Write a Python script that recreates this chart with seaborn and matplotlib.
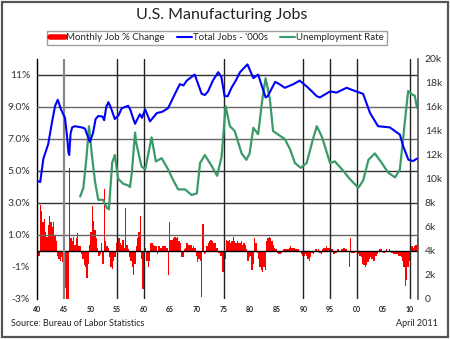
import numpy as np
import matplotlib
matplotlib.use("Agg")
import matplotlib.pyplot as plt
import seaborn as sns
import pandas as pd
from matplotlib.patches import Rectangle
from matplotlib.lines import Line2D

# ---------------- data ----------------
# Monthly job % change, read at quarter-year steps starting 1940.0
job_change_pct = [
    -0.6, -0.3, 2.9, 2.5,   # 1940
    1.8, 2.0, 1.2, 0.9,     # 1941
    1.6, 2.2, 1.8, 1.5,     # 1942
    1.8, 1.0, 0.6, -0.3,    # 1943
    -0.5, -0.6, -0.4, -0.7, # 1944
    -1.2, -2.3, -3.0, -3.0, # 1945
    5.2, 0.8, 0.6, 0.9,     # 1946
    0.4, 0.8, 1.1, 0.3,     # 1947
    0.3, -0.2, -0.5, -0.9,  # 1948
    -1.0, -1.7, -0.8, 0.4,  # 1949
    1.2, 2.8, 1.9, 1.3,     # 1950
    0.8, 0.2, -0.3, -0.2,   # 1951
    0.5, -0.8, 3.9, 0.6,    # 1952
    0.3, 0.2, -0.4, -1.0,   # 1953
    -1.1, -0.6, -0.4, 0.5,  # 1954
    0.6, 0.8, 0.5, 0.4,     # 1955
    0.7, 0.2, 2.7, 0.4,     # 1956
    0.1, -0.4, -0.6, -1.0,  # 1957
    -1.5, -0.8, 0.3, 0.8,   # 1958
    1.2, 2.2, -0.5, -2.4,   # 1959
    1.3, 0.2, -0.6, -1.0,   # 1960
    -0.6, 0.5, 0.5, 0.4,    # 1961
    0.3, 0.3, -0.2, 0.3,    # 1962
    0.2, 0.2, 0.3, 0.3,     # 1963
    0.3, 0.2, -1.5, 1.8,    # 1964
    0.7, 0.7, 0.8, 0.9,     # 1965
    0.8, 0.9, 0.6, 0.5,     # 1966
    -0.4, -0.4, 0.1, 0.2,   # 1967
    0.5, 0.4, 0.4, 0.4,     # 1968
    0.2, 0.3, 0.2, -0.3,    # 1969
    -0.7, -0.5, -0.6, -2.9, # 1970
    1.7, -0.2, -0.1, 0.3,   # 1971
    0.5, 0.6, 0.7, 0.6,     # 1972
    0.5, 0.5, 0.2, 0.2,     # 1973
    -0.1, -0.3, -0.3, -1.3, # 1974
    -1.3, -0.5, 0.7, 0.6,   # 1975
    0.7, 0.5, 0.6, 0.9,     # 1976
    0.6, 0.5, 0.6, 0.5,     # 1977
    0.5, 0.6, 0.4, 0.5,     # 1978
    0.4, 0.1, -0.6, -0.4,   # 1979
    -0.3, -1.2, -0.8, 0.8,  # 1980
    0.5, -0.1, -0.5, -1.0,  # 1981
    -1.2, -1.3, -1.0, -1.2, # 1982
    0.6, 0.8, 0.9, 0.8,     # 1983
    0.6, 0.4, 0.2, 0.1,     # 1984
    -0.1, -0.2, -0.2, -0.1, # 1985
    0.0, 0.1, 0.1, 0.1,     # 1986
    0.1, 0.2, 0.3, 0.2,     # 1987
    0.2, 0.2, 0.1, 0.1,     # 1988
    0.1, 0.0, -0.2, -0.3,   # 1989
    -0.3, -0.2, -0.3, -0.5, # 1990
    -0.6, -0.4, -0.1, -0.2, # 1991
    0.0, 0.1, 0.0, 0.1,     # 1992
    -0.1, -0.2, 0.1, 0.2,   # 1993
    0.2, 0.3, 0.2, 0.2,     # 1994
    0.2, 0.1, -0.2, -0.2,   # 1995
    -0.1, 0.1, 0.1, 0.0,    # 1996
    0.1, 0.1, 0.2, 0.1,     # 1997
    0.1, 0.0, -1.0, 0.8,    # 1998
    -0.1, -0.1, -0.1, 0.0,  # 1999
    -0.1, -0.2, -0.3, -0.4, # 2000
    -0.8, -0.9, -1.0, -0.9, # 2001
    -0.7, -0.5, -0.4, -0.5, # 2002
    -0.6, -0.6, -0.3, -0.2, # 2003
    0.0, 0.1, 0.1, 0.0,     # 2004
    -0.1, 0.0, 0.1, 0.0,    # 2005
    0.1, 0.0, -0.1, -0.2,   # 2006
    -0.2, -0.2, -0.2, -0.3, # 2007
    -0.3, -0.4, -0.6, -1.0, # 2008
    -2.2, -1.8, -1.0, -0.6, # 2009
    0.1, 0.3, 0.2, 0.3,     # 2010
    0.4, 0.8,               # 2011
]

jobs_years = [1940.1, 1940.6, 1941.2, 1942.1, 1942.8, 1943.4, 1943.9, 1944.5, 1945.25,
              1945.7, 1945.9, 1946.05, 1946.3, 1946.6, 1947.1, 1948.4, 1949.0, 1949.9,
              1950.5, 1951.0, 1951.5, 1952.3, 1952.6, 1953.0, 1953.4, 1953.9, 1954.6,
              1955.3, 1955.9, 1957.1, 1957.5, 1958.0, 1958.4, 1959.3, 1959.7, 1960.3,
              1961.2, 1962.5, 1963.5, 1964.6, 1965.9, 1966.8, 1967.5, 1968.1, 1969.6,
              1970.9, 1971.5, 1972.1, 1973.0, 1974.0, 1974.6, 1975.2, 1975.8, 1976.5,
              1977.3, 1978.1, 1979.5, 1980.6, 1981.5, 1982.9, 1983.3, 1984.7, 1985.5,
              1986.5, 1988.1, 1989.3, 1990.9, 1992.5, 1993.1, 1995.0, 1996.2, 1998.1,
              1999.9, 2001.2, 2002.5, 2004.0, 2006.2, 2008.1, 2008.7, 2009.7, 2010.6,
              2011.3]
jobs_thousands = [9830, 9750, 11700, 12900, 14700, 16100, 16600, 15800, 15100,
                  13300, 12200, 12000, 13800, 14300, 14400, 14300, 14200, 13100,
                  13800, 15000, 15250, 15200, 14900, 16000, 16400, 15900, 15000,
                  15300, 15900, 16100, 15800, 15100, 14600, 15400, 15100, 15800,
                  14800, 15500, 15600, 15900, 17100, 17900, 17800, 18200, 18700,
                  17100, 17000, 17300, 18200, 18900, 18500, 16900, 16900, 17600,
                  18200, 18900, 19550, 18400, 18700, 16800, 16900, 18100, 17900,
                  17600, 17900, 18200, 17600, 16900, 16800, 17300, 17200, 17600,
                  17300, 17100, 15500, 14400, 14300, 13700, 12750, 11600, 11500,
                  11700]

unemp_years = [1948.1, 1948.7, 1949.3, 1949.75, 1950.3, 1950.9, 1951.5, 1952.4, 1953.1,
               1953.5, 1954.1, 1954.6, 1955.25, 1956.2, 1957.1, 1957.45, 1957.8, 1958.4,
               1958.6, 1959.6, 1960.3, 1961.5, 1962.3, 1963.4, 1964.6, 1965.6, 1966.5,
               1967.8, 1969.0, 1970.0, 1970.6, 1971.5, 1972.8, 1973.8, 1974.65, 1975.4,
               1976.2, 1977.1, 1978.4, 1979.3, 1979.9, 1980.6, 1981.5, 1982.3, 1982.9,
               1983.7, 1984.3, 1985.6, 1986.5, 1987.5, 1988.4, 1989.5, 1990.6, 1991.8,
               1992.5, 1993.1, 1993.5, 1995.0, 1995.9, 1997.5, 1998.7, 2000.3, 2001.2,
               2002.2, 2003.4, 2004.7, 2005.9, 2007.2, 2008.1, 2008.7, 2009.2, 2009.65,
               2010.3, 2010.9, 2011.3]
unemp_rate = [3.4, 3.95, 5.9, 7.8, 6.0, 4.3, 3.2, 3.2, 2.7,
              2.6, 5.5, 6.0, 4.5, 4.2, 4.1, 4.0, 4.9, 7.4,
              6.8, 5.3, 5.1, 7.1, 5.6, 5.8, 5.1, 4.4, 3.85,
              3.85, 3.5, 3.6, 5.5, 6.0, 5.3, 4.7, 5.9, 9.05,
              7.8, 7.5, 6.1, 5.7, 6.1, 7.7, 7.3, 9.5, 10.8,
              9.5, 7.5, 7.2, 7.0, 6.35, 5.5, 5.2, 5.5, 7.0,
              7.8, 7.4, 7.1, 5.5, 5.6, 5.0, 4.5, 3.95, 4.4,
              5.7, 6.1, 5.5, 4.9, 4.6, 5.1, 7.0, 8.6, 10.0,
              9.8, 9.7, 8.95]

x_ticks = list(range(1940, 2011, 5))
x_labels = ["40", "45", "50", "55", "60", "65", "70", "75", "80", "85", "90", "95", "00", "05", "10"]
left_ticks = [11, 9, 7, 5, 3, 1, -1, -3]
left_labels = ["11%", "9.0%", "7.0%", "5.0%", "3.0%", "1.0%", "-1%", "-3%"]
right_ticks = list(range(0, 20001, 2000))
right_labels = ["0", "2k", "4k", "6k", "8k", "10k", "12k", "14k", "16k", "18k", "20k"]
vline_years = [1945, 1955, 1960, 1975, 1990, 1995, 2000, 2010]
hgrid_values = [11, 9, 7, 5, 3, 1]

# ---------------- plot ----------------
sns.set_theme(style="white")
plt.rcParams["font.family"] = ["Lato", "DejaVu Sans"]

fig = plt.figure(figsize=(4.5, 3.39), dpi=100)
ax = fig.add_axes([37/450, 1-299/339, (418-37)/450, (299-59)/339])
ax.set_facecolor("white")

red_x = 1940 + 0.25 * np.arange(len(job_change_pct))
ax.bar(red_x, job_change_pct, width=0.25, align="edge", color="#ff0000",
       linewidth=0, zorder=2)

for v in hgrid_values:
    ax.axhline(v, color="#333333" if v in (11, 5, 3) else "#666666", lw=1.0, zorder=3)
ax.axhline(0, color="black", lw=1.0, zorder=3)
for yv in vline_years:
    ax.axvline(yv, color="#888888" if yv == 1945 else "#222222",
               lw=1.6 if yv == 1945 else 1.0, zorder=3)

df_u = pd.DataFrame({"year": unemp_years, "rate": unemp_rate})
sns.lineplot(data=df_u, x="year", y="rate", ax=ax, color="#3a9a68", lw=1.6, zorder=5)

ax.set_xlim(1940, 2011.5)
ax.set_ylim(-3, 12)
ax.set_xticks(x_ticks)
ax.set_xticklabels(x_labels, fontsize=5, fontweight="bold", color="#222222")
ax.set_yticks(left_ticks)
ax.set_yticklabels(left_labels, fontsize=7.5, color="#333333")
ax.tick_params(axis="both", length=0)
ax.tick_params(axis="x", pad=5)
ax.tick_params(axis="y", pad=5)
ax.set_xlabel("")
ax.set_ylabel("")
for s in ["top", "bottom", "right"]:
    ax.spines[s].set_visible(False)
ax.spines["left"].set_color("black")
ax.spines["left"].set_linewidth(1.0)

ax2 = ax.twinx()
df_j = pd.DataFrame({"year": jobs_years, "jobs": jobs_thousands})
sns.lineplot(data=df_j, x="year", y="jobs", ax=ax2, color="#0000ff", lw=1.5, zorder=4)
ax2.set_ylim(0, 20000)
ax2.set_yticks(right_ticks)
ax2.set_yticklabels(right_labels, fontsize=7.5, color="#333333")
ax2.tick_params(axis="y", length=0, pad=5)
ax2.set_ylabel("")
for s in ["top", "bottom", "left"]:
    ax2.spines[s].set_visible(False)
ax2.spines["right"].set_color("#555555")
ax2.spines["right"].set_linewidth(1.2)
ax2.set_xlim(1940, 2011.5)

# legend
handles = [Line2D([0], [0], color="#ff0000", lw=4),
           Line2D([0], [0], color="#0000ff", lw=1.5),
           Line2D([0], [0], color="#3a9a68", lw=1.5)]
labels = ["Monthly Job % Change", "Total Jobs - '000s", "Unemployment Rate"]
leg = fig.legend(handles, labels, loc="center", bbox_to_anchor=(217/450, 1-38/339),
                 ncol=3, fontsize=7, frameon=True, fancybox=False,
                 handlelength=1.6, handletextpad=0.1, columnspacing=1.2,
                 borderpad=0.25, borderaxespad=0)
leg.get_frame().set_edgecolor("#888888")
leg.get_frame().set_linewidth(1.0)

fig.text(222/450, 1-15/339, "U.S. Manufacturing Jobs", ha="center", va="center",
         fontsize=11.5, color="#222222")
fig.text(11/450, 1-324/339, "Source: Bureau of Labor Statistics", ha="left", va="center",
         fontsize=6.5, color="#222222")
fig.text(438/450, 1-324/339, "April 2011", ha="right", va="center",
         fontsize=6.5, color="#222222")

fig.patches.append(Rectangle((0.004, 0.005), 0.992, 0.99, transform=fig.transFigure,
                             fill=False, edgecolor="#555555", lw=1.6))

fig.savefig("out.png", dpi=100, facecolor="white")
